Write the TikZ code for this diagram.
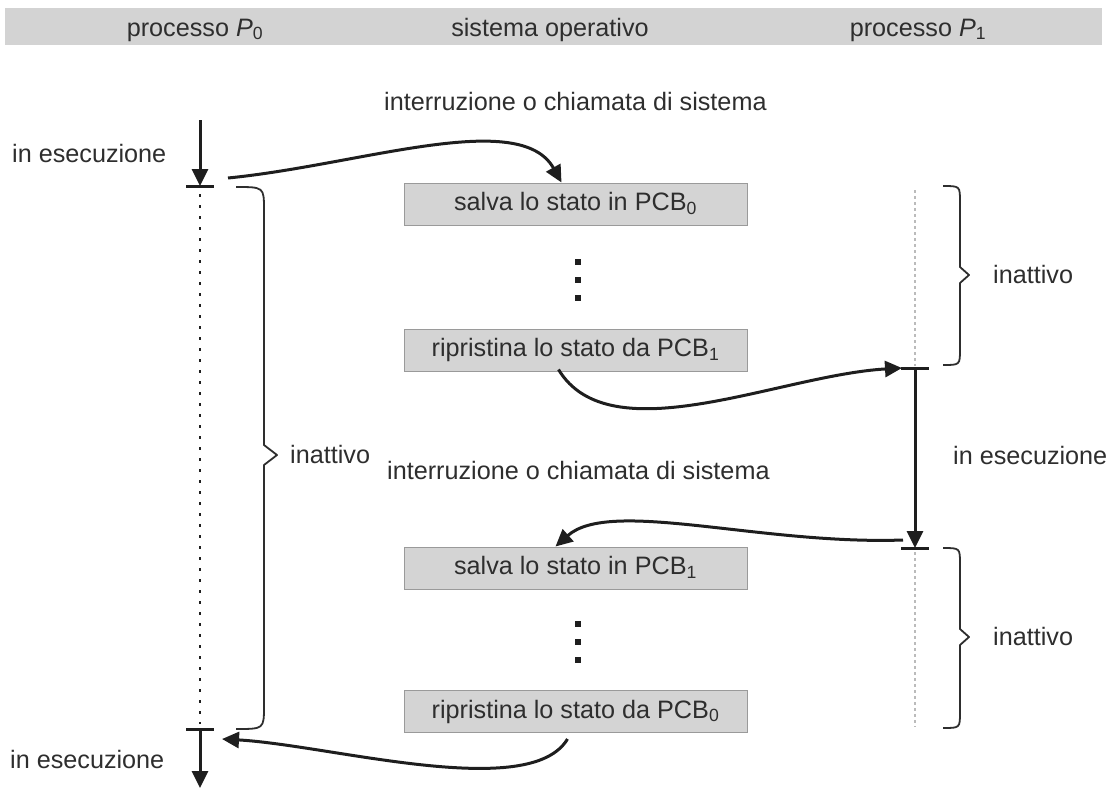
\documentclass[tikz,border=0pt]{standalone}
\usepackage{fontspec}
\setmainfont{Liberation Sans}
\usetikzlibrary{arrows.meta,calc}
\definecolor{ink}{HTML}{1E1E1E}
\definecolor{txt}{HTML}{2E2E2E}
\definecolor{band}{HTML}{D3D3D3}
\definecolor{boxfill}{HTML}{D4D4D4}
\definecolor{boxline}{HTML}{9A9A9A}
\definecolor{idle}{HTML}{BBBBBB}

\begin{document}
\begin{tikzpicture}[x=1pt,y=-1pt,
  every node/.style={font=\fontsize{25.2}{29}\selectfont, text=txt, inner sep=0pt},
  tag/.style={anchor=base west},
  head/.style={anchor=base},
  osbox/.style={draw=boxline, line width=1pt, fill=boxfill,
    minimum width=343pt, minimum height=42pt, text height=18pt, text depth=5pt},
  flow/.style={ink, line width=3pt, -{Triangle[length=17pt,width=16pt]}},
  bar/.style={ink, line width=3pt},
  curly/.style={txt, line width=1.8pt, line join=round},
  osdot/.style={fill=ink, minimum size=6.5pt, inner sep=0pt},
  ]
\useasboundingbox (0,0) rectangle (1106,788);

% column headings
\fill[band] (5,8) rectangle (1102,45);
\node[head] (hp0) at (195,36) {processo \textit{P}\textsubscript{0}};
\node[head] (hos) at (550,36) {sistema operativo};
\node[head] (hp1) at (918,36) {processo \textit{P}\textsubscript{1}};

% operating system steps
\node[osbox] (save0) at (575.5,204) {salva lo stato in PCB\textsubscript{0}};
\node[osbox] (load1) at (575.5,350) {ripristina lo stato da PCB\textsubscript{1}};
\node[osbox] (save1) at (575.5,568) {salva lo stato in PCB\textsubscript{1}};
\node[osbox] (load0) at (575.5,711.5) {ripristina lo stato da PCB\textsubscript{0}};

\node[osdot] (d1) at (578,262) {};
\node[osdot] (d2) at (578,280) {};
\node[osdot] (d3) at (578,298) {};
\node[osdot] (d4) at (578,624) {};
\node[osdot] (d5) at (578,642) {};
\node[osdot] (d6) at (578,660) {};

% labels
\node[tag] (int1) at (384,110) {interruzione o chiamata di sistema};
\node[tag] (int2) at (387,479) {interruzione o chiamata di sistema};
\node[tag] (run0a) at (12,162) {in esecuzione};
\node[tag] (run0b) at (10,768) {in esecuzione};
\node[tag] (run1) at (953,464) {in esecuzione};
\node[tag] (idle0) at (290,463) {inattivo};
\node[tag] (idle1a) at (993,283) {inattivo};
\node[tag] (idle1b) at (993,645) {inattivo};

% process time lines
\coordinate (p0top) at (200,120);
\coordinate (p0stop) at (200,186);
\coordinate (p0go) at (200,729);
\coordinate (p0end) at (200,788);
\coordinate (p1go) at (915,368);
\coordinate (p1stop) at (915,548);

\draw[flow] (p0top) -- (p0stop);
\draw[bar] (p0stop) ++(-14,0) -- ++(28,0);
\draw[ink, line width=2.2pt, dash pattern=on 2.5pt off 8.5pt] (200,194) -- (200,724);
\draw[bar] (p0go) ++(-14,0) -- ++(28,0);
\draw[flow] (p0go) -- (p0end);

\draw[idle, line width=1.5pt, dash pattern=on 3pt off 3pt] (915,190) -- (915,366);
\draw[bar] (p1go) ++(-14,0) -- ++(28,0);
\draw[flow] (p1go) -- (p1stop);
\draw[bar] (p1stop) ++(-14,0) -- ++(28,0);
\draw[idle, line width=1.5pt, dash pattern=on 3pt off 3pt] (915,552) -- (915,727);

% context switch transfers
\coordinate (c1s) at (228,178);
\coordinate (c3s) at (903,540);
\draw[flow] (c1s) .. controls (360,165) and (520,108) .. ($(save0.north)+(-14,0)$);
\draw[flow] ($(load1.south)+(-17,-2)$) .. controls (610,455) and (780,375) .. ($(p1go)+(-13,0)$);
\draw[flow] (c3s) .. controls (760,545) and (610,498) .. ($(save1.north)+(-20,0)$);
\draw[flow] ($(load0.south)+(-8,6)$) .. controls (530,802) and (330,745) .. ($(p0go)+(22,10)$);

% idle intervals
\draw[curly] (236,187) .. controls (264,187) .. (264,210) -- (264,445) -- (277,455) -- (264,465) -- (264,706) .. controls (264,729) .. (236,729);
\draw[curly] (943,186) .. controls (960,186) .. (960,202) -- (960,267) -- (969,275) -- (960,283) -- (960,349) .. controls (960,365) .. (943,365);
\draw[curly] (943,548) .. controls (960,548) .. (960,564) -- (960,629) -- (969,637) -- (960,645) -- (960,712) .. controls (960,728) .. (943,728);
\end{tikzpicture}
\end{document}
